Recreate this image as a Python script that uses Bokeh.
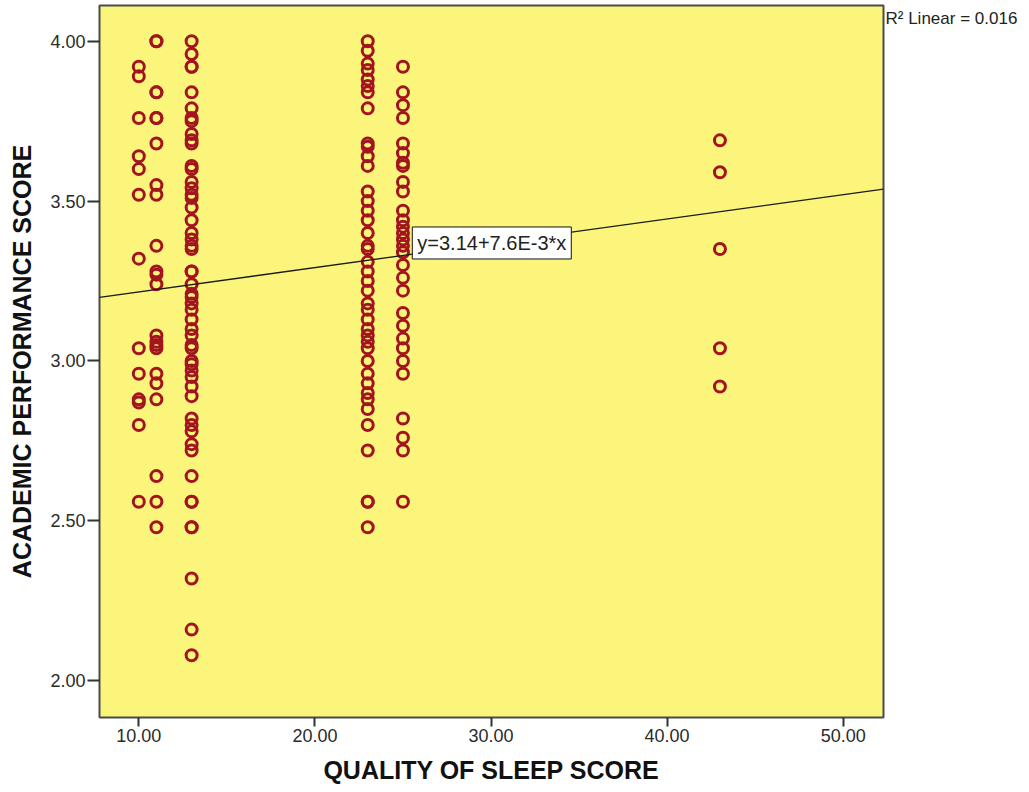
from bokeh.plotting import figure
from bokeh.layouts import row
from bokeh.models import Range1d, FixedTicker, Label, ColumnDataSource
from bokeh.embed import file_html
from bokeh.resources import INLINE

# ---- data ----
sleep_scores = [10, 11, 13, 23, 25, 43]
gpa_10 = [3.92, 3.89, 3.76, 3.64, 3.60, 3.52, 3.32, 3.04, 2.96, 2.88, 2.87, 2.80, 2.56]
gpa_11 = [4.00, 4.00, 3.84, 3.84, 3.76, 3.76, 3.68, 3.55, 3.52, 3.36, 3.28, 3.27, 3.24,
          3.08, 3.06, 3.05, 3.04, 2.96, 2.93, 2.88, 2.64, 2.56, 2.48]
gpa_13 = [4.00, 3.96, 3.92, 3.92, 3.84, 3.79, 3.76, 3.75, 3.71, 3.69, 3.68, 3.61, 3.60,
          3.56, 3.54, 3.52, 3.51, 3.48, 3.44, 3.40, 3.38, 3.36, 3.35, 3.28, 3.28, 3.24,
          3.21, 3.20, 3.18, 3.16, 3.13, 3.10, 3.08, 3.05, 3.04, 3.00, 2.99, 2.97, 2.95,
          2.92, 2.89, 2.82, 2.80, 2.78, 2.74, 2.72, 2.64, 2.56, 2.56, 2.48, 2.48, 2.32,
          2.16, 2.08]
gpa_23 = [4.00, 3.97, 3.93, 3.91, 3.88, 3.86, 3.84, 3.79, 3.68, 3.67, 3.64, 3.61, 3.53,
          3.50, 3.47, 3.44, 3.40, 3.36, 3.35, 3.31, 3.28, 3.25, 3.22, 3.18, 3.16, 3.13,
          3.10, 3.08, 3.06, 3.04, 3.00, 2.96, 2.93, 2.90, 2.88, 2.85, 2.80, 2.72, 2.56,
          2.56, 2.48]
gpa_25 = [3.92, 3.84, 3.80, 3.76, 3.68, 3.65, 3.62, 3.61, 3.56, 3.53, 3.47, 3.44, 3.42,
          3.40, 3.38, 3.36, 3.34, 3.30, 3.26, 3.22, 3.15, 3.11, 3.07, 3.04, 3.00, 2.96,
          2.82, 2.76, 2.72, 2.56]
gpa_43 = [3.69, 3.59, 3.35, 3.04, 2.92]
gpa_columns = [gpa_10, gpa_11, gpa_13, gpa_23, gpa_25, gpa_43]

intercept = 3.14
slope = 7.6e-3
r2_text = "R\u00b2 Linear = 0.016"
eq_text = "y=3.14+7.6E-3*x"

x_ticks = [10, 20, 30, 40, 50]
y_ticks = [2.0, 2.5, 3.0, 3.5, 4.0]

xs, ys = [], []
for s, col in zip(sleep_scores, gpa_columns):
    xs += [s] * len(col)
    ys += col
src = ColumnDataSource(dict(x=xs, y=ys))

# ---- styling / layout ----
FONT = "Liberation Sans"
YELLOW = "#FBF67B"
RED = "#A3151E"
X0, X1 = 7.768, 52.288
Y0, Y1 = 1.8852, 4.1116

p = figure(width=885, height=790, output_backend="svg", toolbar_location=None,
           x_range=Range1d(X0, X1), y_range=Range1d(Y0, Y1),
           min_border_left=99, min_border_right=2, min_border_top=5,
           min_border_bottom=73)
p.background_fill_color = YELLOW
p.border_fill_color = "white"
p.outline_line_color = "#4a4a4a"
p.outline_line_width = 2
p.grid.visible = False

p.scatter("x", "y", source=src, marker="circle", size=11, fill_color=None,
          line_color=RED, line_width=3)

fit_x = [X0, X1]
fit_y = [intercept + slope * v for v in fit_x]
p.line(fit_x, fit_y, line_color="#1a1a1a", line_width=1.3)

for ax in (p.xaxis[0], p.yaxis[0]):
    ax.axis_line_color = None
    ax.major_tick_line_color = "#333333"
    ax.major_tick_line_width = 2
    ax.minor_tick_line_color = None
    ax.major_tick_in = 0
    ax.major_label_text_font = FONT
    ax.major_label_text_font_size = "18px"
    ax.major_label_text_color = "#2b2b2b"
    ax.axis_label_text_font = FONT
    ax.axis_label_text_font_style = "bold"
    ax.axis_label_text_font_size = "25px"
    ax.axis_label_text_color = "#111111"
    ax.major_label_standoff = 2

p.xaxis.ticker = FixedTicker(ticks=x_ticks)
p.yaxis.ticker = FixedTicker(ticks=y_ticks)
p.xaxis.major_label_overrides = {t: f"{t:.2f}" for t in x_ticks}
p.yaxis.major_label_overrides = {t: f"{t:.2f}" for t in y_ticks}
p.xaxis.major_tick_out = 9
p.yaxis.major_tick_out = 12
p.xaxis.axis_label = "QUALITY OF SLEEP SCORE"
p.yaxis.axis_label = "ACADEMIC PERFORMANCE SCORE"
p.xaxis.axis_label_standoff = 11
p.yaxis.axis_label_standoff = 11

p.add_layout(Label(x=25.53, y=3.369, text=eq_text, text_font=FONT,
                   text_font_size="20px", text_color="#222222",
                   text_align="left", text_baseline="middle",
                   background_fill_color="white", border_line_color="#111111",
                   border_line_width=1, padding=5))

# side panel holding the R² note to the right of the plotting area
side = figure(width=142, height=790, output_backend="svg", toolbar_location=None,
              x_range=Range1d(0, 1), y_range=Range1d(0, 1),
              x_axis_type=None, y_axis_type=None,
              min_border_left=0, min_border_right=0, min_border_top=0,
              min_border_bottom=0)
side.outline_line_color = None
side.grid.visible = False
side.background_fill_color = "white"
side.border_fill_color = "white"
side.add_layout(Label(x=0, y=1, text=r2_text, text_font=FONT,
                      text_font_size="17px", text_color="#222222",
                      text_align="left", text_baseline="top", y_offset=-3))

layout = row(p, side, spacing=0)
open("out.html", "w").write(file_html(layout, INLINE))
